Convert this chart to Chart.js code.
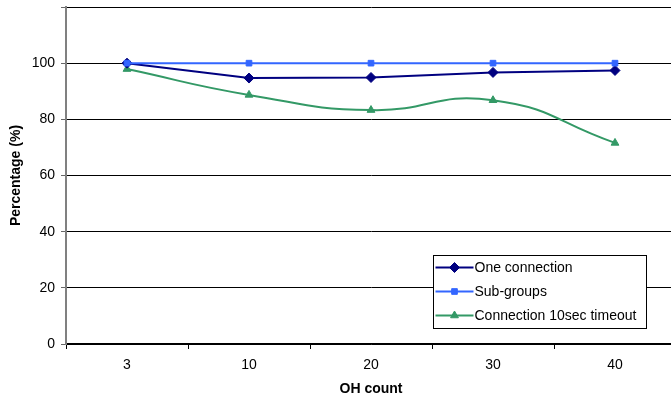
<!DOCTYPE html>
<html>
<head>
<meta charset="utf-8">
<script src="https://cdn.jsdelivr.net/npm/chart.js@4/dist/chart.umd.min.js"></script>
<style>
  html, body { margin: 0; padding: 0; background: #fff; overflow: hidden; }
  #wrap { position: relative; width: 682px; height: 400px; }
</style>
</head>
<body>
<div id="wrap"><canvas id="c" width="682" height="400"></canvas></div>
<script>
// OH count categories
const categories = ['3', '10', '20', '30', '40'];
// Percentage values per series
const oneConnection = [100, 94.7, 94.9, 96.7, 97.4];
const subGroups = [100, 100, 100, 100, 100];
const timeout10s = [97.9, 88.7, 83.3, 86.8, 71.6];
const seriesNames = ['One connection', 'Sub-groups', 'Connection 10sec timeout'];
const yTicks = [0, 20, 40, 60, 80, 100];

const FONT = 'Arial, "Liberation Sans", sans-serif';

const styles = [
  { color: '#000080', point: 'rectRot', radius: 5, tension: 0 },
  { color: '#3366ff', point: 'rect', radius: 4, tension: 0 },
  { color: '#339966', point: 'triangle', radius: 4.5, tension: 0.5 }
];

const seriesData = [oneConnection, subGroups, timeout10s];
const drawOrder = [1, 0, 2];

const datasets = seriesNames.map((name, i) => ({
  label: name,
  data: seriesData[i],
  borderColor: styles[i].color,
  backgroundColor: styles[i].color,
  borderWidth: 2,
  pointStyle: styles[i].point,
  pointRadius: styles[i].radius,
  pointHoverRadius: styles[i].radius,
  pointBorderWidth: 1,
  tension: styles[i].tension,
  order: drawOrder[i]
}));

// Boxed legend drawn inside the plot area
const boxLegend = {
  id: 'boxLegend',
  afterDraw(chart) {
    const ctx = chart.ctx;
    const x = 433.5, y = 255.5, w = 213, h = 73;
    ctx.save();
    ctx.fillStyle = '#fff';
    ctx.fillRect(x, y, w, h);
    ctx.strokeStyle = '#000';
    ctx.lineWidth = 1;
    ctx.strokeRect(x, y, w, h);
    ctx.font = '14px ' + FONT;
    ctx.textBaseline = 'middle';
    seriesNames.forEach((name, i) => {
      const cy = y + 12 + i * 24;
      ctx.strokeStyle = styles[i].color;
      ctx.lineWidth = 2;
      ctx.beginPath();
      ctx.moveTo(x + 2, cy);
      ctx.lineTo(x + 40, cy);
      ctx.stroke();
      ctx.fillStyle = styles[i].color;
      ctx.strokeStyle = styles[i].color;
      ctx.lineWidth = 1;
      Chart.helpers.drawPoint(ctx, {
        pointStyle: styles[i].point,
        radius: styles[i].radius,
        borderWidth: 1
      }, x + 21, cy);
      ctx.fillStyle = '#000';
      ctx.fillText(name, x + 41, cy + 1);
    });
    ctx.restore();
  }
};

new Chart(document.getElementById('c'), {
  type: 'line',
  data: { labels: categories, datasets },
  options: {
    responsive: false,
    animation: false,
    events: [],
    layout: { padding: { top: 7, right: 0, left: 0, bottom: 0 } },
    plugins: { legend: { display: false }, tooltip: { enabled: false } },
    scales: {
      x: {
        offset: true,
        afterFit(s) { s.height = 56; s.paddingLeft = 0; s.paddingRight = 0; },
        grid: {
          display: true,
          offset: true,
          drawOnChartArea: false,
          drawTicks: true,
          tickLength: 5,
          color: '#000',
          tickColor: '#000'
        },
        border: { display: true, color: '#000', width: 1.5 },
        ticks: { color: '#000', font: { family: FONT, size: 14 }, padding: 8, maxRotation: 0 },
        title: {
          display: true,
          text: 'OH count',
          color: '#000',
          font: { family: FONT, size: 14, weight: 'bold' },
          padding: { top: 0, bottom: 2 }
        }
      },
      y: {
        min: 0,
        max: 120,
        afterFit(s) { s.width = 66; s.paddingTop = 0; s.paddingBottom = 0; },
        afterBuildTicks(s) {
          s.ticks = yTicks.concat([120]).map(v => ({ value: v }));
        },
        grid: {
          color: '#000',
          lineWidth: 1,
          tickLength: 5,
          tickColor: '#666'
        },
        border: { display: true, color: '#808080', width: 2 },
        ticks: {
          color: '#000',
          font: { family: FONT, size: 14 },
          padding: 6,
          callback: v => (yTicks.includes(v) ? String(v) : '')
        },
        title: {
          display: true,
          text: 'Percentage (%)',
          color: '#000',
          font: { family: FONT, size: 14, weight: 'bold' },
          padding: { top: 8, bottom: 0 }
        }
      }
    }
  },
  plugins: [boxLegend]
});
</script>
</body>
</html>
